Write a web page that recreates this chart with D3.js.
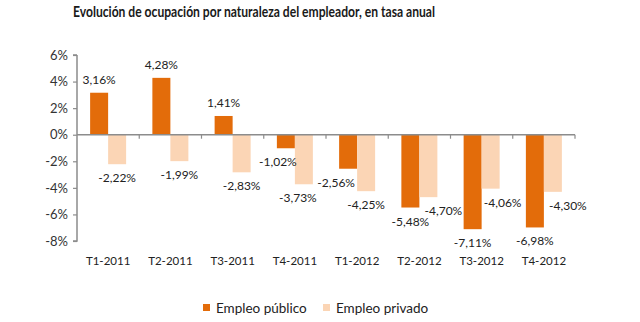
<!DOCTYPE html>
<html><head><meta charset="utf-8">
<script src="https://cdn.jsdelivr.net/npm/d3@7"></script>
<style>body{margin:0;background:#fff}svg{display:block}</style>
</head><body>
<script>
const categories = ["T1-2011","T2-2011","T3-2011","T4-2011","T1-2012","T2-2012","T3-2012","T4-2012"];
const publico = [3.16, 4.28, 1.41, -1.02, -2.56, -5.48, -7.11, -6.98];
const privado = [-2.22, -1.99, -2.83, -3.73, -4.25, -4.70, -4.06, -4.30];
const seriesNames = ["Empleo público", "Empleo privado"];
const yTicks = [6, 4, 2, 0, -2, -4, -6, -8];
const colors = ["#E36C0A", "#FBD5B5"];
// manual label nudges (as in the original chart)
const pubShift = [0, 0, 0, -8, -12, 0, 0, 0];
const privShift = [0, 0, 0, -6, 0, 15, 12, 15];

const W = 640, H = 322;
const svg = d3.select("body").append("svg").attr("width", W).attr("height", H);
const font = "Lato, 'Open Sans', sans-serif";

const x = d3.scaleBand().domain(categories).range([77, 575]).paddingInner(0).paddingOuter(0);
const y = d3.scaleLinear().domain([-8, 6]).range([241, 55]);
const fmt = v => d3.format(".2f")(v).replace("\u2212", "-").replace(".", ",") + "%";

svg.append("text").attr("x", 254).attr("y", 17).attr("text-anchor", "middle")
  .attr("font-family", font).attr("font-weight", 700).attr("font-size", 14.5)
  .attr("fill", "#1a1a1a").attr("textLength", 362).attr("lengthAdjust", "spacingAndGlyphs")
  .text("Evolución de ocupación por naturaleza del empleador, en tasa anual");

const barW = 18;
const inner = d3.scaleBand().domain([0, 1]).range([0, 36]);
const off = (x.bandwidth() - 36) / 2;

const g = svg.append("g");
[publico, privado].forEach((vals, si) => {
  g.selectAll(null).data(vals).enter().append("rect")
    .attr("x", (d, i) => x(categories[i]) + off + inner(si))
    .attr("width", inner.bandwidth())
    .attr("y", d => y(Math.max(0, d)))
    .attr("height", d => Math.abs(y(d) - y(0)))
    .attr("fill", colors[si]);
});

// y axis
const yAxis = svg.append("g").attr("transform", "translate(77,0)")
  .call(d3.axisLeft(y).tickValues(yTicks).tickSize(4).tickPadding(5).tickFormat(d => String(d).replace("\u2212", "-") + "%"));
yAxis.select(".domain").attr("stroke", "#8c8c8c").attr("stroke-width", 1.5).attr("d", "M0," + y(6) + "V" + y(-8) + "H-4M-4," + y(6) + "H0");
yAxis.selectAll(".tick line").attr("stroke", "#8c8c8c").attr("stroke-width", 1.2);
yAxis.selectAll(".tick text").attr("font-family", font).attr("font-size", 13).attr("fill", "#333");

// x axis at zero
const bounds = categories.map(c => x(c)).concat([x.range()[1]]);
const xa = svg.append("g");
xa.append("line").attr("x1", 77).attr("x2", 575).attr("y1", y(0)).attr("y2", y(0))
  .attr("stroke", "#8c8c8c").attr("stroke-width", 1.5);
xa.selectAll(null).data(bounds.slice(1)).enter().append("line")
  .attr("x1", d => d).attr("x2", d => d).attr("y1", y(0)).attr("y2", y(0) + 4)
  .attr("stroke", "#8c8c8c").attr("stroke-width", 1.2);

svg.append("g").selectAll("text").data(categories).enter().append("text")
  .attr("x", d => x(d) + x.bandwidth() / 2).attr("y", 265).attr("text-anchor", "middle")
  .attr("font-family", font).attr("font-size", 11.5).attr("fill", "#222").text(d => d);

// value labels
function labels(vals, si, shift) {
  svg.append("g").selectAll("text").data(vals).enter().append("text")
    .attr("x", (d, i) => x(categories[i]) + off + inner(si) + barW / 2 + shift[i])
    .attr("y", d => d >= 0 ? y(d) - 9 : y(d) + 18)
    .attr("text-anchor", "middle").attr("font-family", font).attr("font-size", 12)
    .attr("fill", "#222").text(d => fmt(d));
}
labels(publico, 0, pubShift);
labels(privado, 1, privShift);

// legend
const lg = svg.append("g");
const lx = [203, 323];
seriesNames.forEach((n, i) => {
  lg.append("rect").attr("x", lx[i]).attr("y", 304).attr("width", 7).attr("height", 7).attr("fill", colors[i]);
  lg.append("text").attr("x", lx[i] + 13).attr("y", 313).attr("font-family", font)
    .attr("font-size", 13.5).attr("fill", "#222").text(n);
});
</script>
</body></html>
